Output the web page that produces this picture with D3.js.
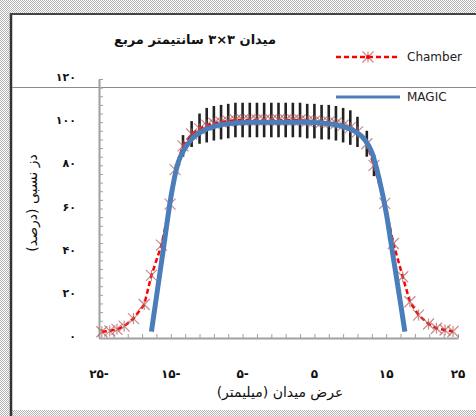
<!DOCTYPE html>
<html><head><meta charset="utf-8">
<script src="https://cdn.jsdelivr.net/npm/d3@7/dist/d3.min.js"></script>
<style>body{margin:0;background:#fff}svg{display:block}</style>
</head><body>
<script>
// ---- data ----
const chamberX = [-24.6,-23.5,-22.5,-21.5,-20.2,-18.7,-17.7,-16.3,-15.1,-14.4,-13.3,-12.1,-11,-10,-9,-8,-7,-6,-5,-4,-3,-2,-1,0,1,2,3,4,5,6,7,8,9,10,11,12.3,13.3,14.8,16,17.3,18.3,19.5,20.9,22,23.2,24.3];
const chamberY = [2.9,3.3,4,5.5,9,15.5,29,43,62,78,89,94.5,97,98.6,99.5,100,100.5,101,101,101,101,101,101,101,101,101,101,100.5,100.5,100,100,99.5,98.6,97.5,95.5,90,80,62.4,43.8,28.4,16.8,10.6,6.5,4.5,3.7,3.0];
const chamberErr = [0,0,0,0,0,0,0,0,0,0,5,6,7,8,8,8,8,8,8,8,8,8,8,8,8,8,8,8,8,8,8,8,8,8,7,6,5,0,0,0,0,0,0,0,0,0];
const magicX = [-17.7,-17,-16,-15,-14,-13,-12,-11,-10,-9,-8,-6,-4,-2,0,2,4,6,8,9,10,11,12,13,14,15,16,17,17.6];
const magicY = [3,19,42,65,81,88,92.5,95,96.8,98,98.8,99.6,100,100,100,100,100,99.6,98.8,98,96.8,95,92,86,74,58,37,16,3];
const xTickVals = [-25,-15,-5,5,15,25];
const xTickLabels = ["۲۵-","۱۵-","۵-","۵","۱۵","۲۵"];
const yTickVals = [0,20,40,60,80,100,120];
const yTickLabels = ["۰","۲۰","۴۰","۶۰","۸۰","۱۰۰","۱۲۰"];
const titleText = "میدان ۳×۳ سانتیمتر مربع";
const xTitle = "عرض میدان (میلیمتر)";
const yTitle = "دز نسبی (درصد)";
const seriesNames = ["Chamber","MAGIC"];

const W = 476, H = 416;
const svg = d3.select("body").append("svg").attr("width", W).attr("height", H);
const defs = svg.append("defs");
const pat = defs.append("pattern").attr("id","dots").attr("width",2).attr("height",2).attr("patternUnits","userSpaceOnUse");
pat.append("rect").attr("width",2).attr("height",2).attr("fill","#fff");
pat.append("rect").attr("width",1).attr("height",1).attr("fill","#b4b4b4");
pat.append("rect").attr("x",1).attr("y",1).attr("width",1).attr("height",1).attr("fill","#b4b4b4");

// frame
svg.append("rect").attr("x",0).attr("y",0).attr("width",W).attr("height",13).attr("fill","url(#dots)");
svg.append("rect").attr("x",0).attr("y",0).attr("width",10).attr("height",H).attr("fill","url(#dots)");
svg.append("rect").attr("x",10).attr("y",410).attr("width",W-10).attr("height",6).attr("fill","url(#dots)");
svg.append("line").attr("x1",11).attr("x2",11).attr("y1",13).attr("y2",H).attr("stroke","#333").attr("stroke-width",2.5);
svg.append("line").attr("x1",10).attr("x2",W).attr("y1",14).attr("y2",14).attr("stroke","#444").attr("stroke-width",2);
svg.append("line").attr("x1",12).attr("x2",W).attr("y1",87.5).attr("y2",87.5).attr("stroke","#8c8c8c").attr("stroke-width",1);

const x = d3.scaleLinear().domain([-25,25]).range([99,458]);
const y = d3.scaleLinear().domain([0,120]).range([338,79]);

// axes
const gx = svg.append("g").attr("transform","translate(0,338)")
  .call(d3.axisBottom(x).tickValues(d3.range(-25,25.1,2)).tickSize(-4).tickSizeOuter(0).tickFormat(""));
const gy = svg.append("g").attr("transform","translate(99,0)")
  .call(d3.axisLeft(y).tickValues(d3.range(0,120.1,4)).tickSize(-4).tickSizeOuter(0).tickFormat(""));
[gx,gy].forEach(g=>{
  g.select(".domain").attr("stroke","#a0a0a0").attr("stroke-width",2);
  g.selectAll(".tick line").attr("stroke","#a0a0a0").attr("stroke-width",1);
});

const fa = "'DejaVu Sans', sans-serif";
svg.append("g").selectAll("text").data(xTickVals).join("text")
  .attr("x",d=>x(d)).attr("y",378).attr("text-anchor","middle")
  .attr("font-family",fa).attr("font-size",12).attr("font-weight","bold").attr("fill","#111")
  .attr("direction","ltr")
  .text((d,i)=>xTickLabels[i]);
svg.append("g").selectAll("text").data(yTickVals).join("text")
  .attr("x",76).attr("y",d=>y(d)+2).attr("text-anchor","end")
  .attr("font-family",fa).attr("font-size",11).attr("font-weight","bold").attr("fill","#111")
  .text((d,i)=>yTickLabels[i]);

// titles
svg.append("text").attr("x",195).attr("y",44).attr("text-anchor","middle")
  .attr("font-family",fa).attr("font-size",13).attr("font-weight","bold").attr("fill","#111")
  .attr("direction","rtl").text(titleText);
svg.append("text").attr("x",280).attr("y",397).attr("text-anchor","middle")
  .attr("font-family",fa).attr("font-size",14).attr("fill","#111")
  .attr("direction","rtl").text(xTitle);
svg.append("text").attr("transform","translate(37,203) rotate(-90)").attr("text-anchor","middle")
  .attr("font-family",fa).attr("font-size",14).attr("fill","#111")
  .attr("direction","rtl").text(yTitle);

// data
const cData = chamberX.map((d,i)=>({x:d,y:chamberY[i],e:chamberErr[i]}));
const mData = magicX.map((d,i)=>({x:d,y:magicY[i]}));

svg.append("g").selectAll("line").data(cData.filter(d=>d.e>0)).join("line")
  .attr("x1",d=>x(d.x)).attr("x2",d=>x(d.x))
  .attr("y1",d=>y(d.y-d.e)).attr("y2",d=>y(d.y+d.e))
  .attr("stroke","#222").attr("stroke-width",2.6);

const line = d3.line().x(d=>x(d.x)).y(d=>y(d.y));
svg.append("path").datum(cData).attr("d",line.curve(d3.curveLinear))
  .attr("fill","none").attr("stroke","#ff0000").attr("stroke-width",2.5).attr("stroke-dasharray","5,3");

function star(g, cx, cy){
  const s=5.5;
  g.append("path").attr("d",`M${cx-s},${cy-s}L${cx+s},${cy+s}M${cx-s},${cy+s}L${cx+s},${cy-s}M${cx},${cy-s}L${cx},${cy+s}`)
   .attr("stroke","#b05a5a").attr("stroke-opacity",0.7).attr("stroke-width",1.2).attr("fill","none");
}
const mk = svg.append("g");
cData.forEach(d=>star(mk, x(d.x), y(d.y)));

svg.append("path").datum(mData).attr("d",d3.line().x(d=>x(d.x)).y(d=>y(d.y)).curve(d3.curveMonotoneX))
  .attr("fill","none").attr("stroke","#4a7ebb").attr("stroke-width",5).attr("stroke-linecap","butt");

// legend
const lg = svg.append("g");
lg.append("line").attr("x1",336).attr("x2",400).attr("y1",57).attr("y2",57)
  .attr("stroke","#ff0000").attr("stroke-width",2.5).attr("stroke-dasharray","5,3");
star(lg,368,57);
lg.append("circle").attr("cx",368).attr("cy",57).attr("r",2).attr("fill","#ff0000");
lg.append("text").attr("x",407).attr("y",61).attr("font-family","'DejaVu Sans', sans-serif").attr("font-size",12).attr("fill","#222").text(seriesNames[0]);
lg.append("line").attr("x1",336).attr("x2",400).attr("y1",97).attr("y2",97)
  .attr("stroke","#4a7ebb").attr("stroke-width",3);
lg.append("text").attr("x",407).attr("y",101).attr("font-family","'DejaVu Sans', sans-serif").attr("font-size",12).attr("fill","#222").text(seriesNames[1]);
</script>
</body></html>
